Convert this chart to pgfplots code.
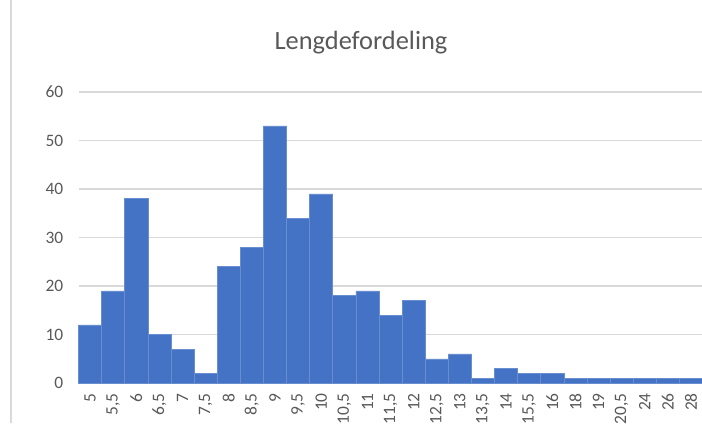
\documentclass[border=0pt]{standalone}
\usepackage{fontspec}
\setmainfont{Carlito}
\usepackage{pgfplots}
\pgfplotsset{compat=1.18}
\definecolor{barblue}{HTML}{4472C4}
\definecolor{txtgray}{HTML}{595959}
\definecolor{gridgray}{HTML}{D9D9D9}
\begin{document}
\begin{tikzpicture}[x=1bp,y=1bp]
\useasboundingbox (0,0) rectangle (702,423);
\draw[gridgray, line width=1.5bp] (10.8,0) -- (10.8,423);
\node[anchor=base, font=\fontsize{26.5}{30}\selectfont, text=txtgray] at (361,374) {Lengdefordeling};
\begin{axis}[
  at={(78.5bp,40bp)}, anchor=south west,
  scale only axis, width=624bp, height=291bp,
  ybar, bar width=1,
  ymin=0, ymax=60, xmin=-0.5, xmax=26.5,
  ytick={0,10,...,60},
  ymajorgrids, grid style={gridgray, line width=1.2bp},
  axis line style={draw=none},
  major tick length=0pt,
  clip=false,
  /pgf/number format/assume math mode=true,
  xtick=data,
  xticklabels={5,{5,5},6,{6,5},7,{7,5},8,{8,5},9,{9,5},10,{10,5},11,{11,5},12,{12,5},13,{13,5},14,{15,5},16,18,19,{20,5},24,26,28},
  xticklabel style={yshift=-10bp, rotate=90, anchor=east, inner sep=0pt, font=\fontsize{17.5}{18}\selectfont, text=txtgray},
  yticklabel style={anchor=east, inner sep=0pt, xshift=-15bp, font=\fontsize{17.5}{18}\selectfont, text=txtgray},
]
\addplot[fill=barblue, draw=barblue!80!white, line width=0.5bp] coordinates {
(0,12) (1,19) (2,38) (3,10) (4,7) (5,2) (6,24) (7,28) (8,53) (9,34)
(10,39) (11,18) (12,19) (13,14) (14,17) (15,5) (16,6) (17,1) (18,3) (19,2)
(20,2) (21,1) (22,1) (23,1) (24,1) (25,1) (26,1)
};
\end{axis}
\end{tikzpicture}
\end{document}
